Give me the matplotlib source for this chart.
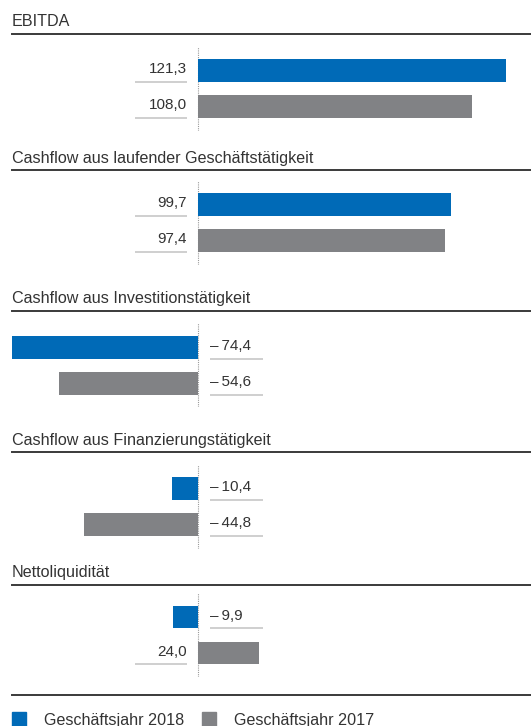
import matplotlib
matplotlib.use("Agg")
import matplotlib.pyplot as plt
from matplotlib.lines import Line2D
from matplotlib.patches import Rectangle

plt.rcParams['font.family'] = ['Liberation Sans', 'DejaVu Sans']

# ---- data ----
titles = ["EBITDA",
          "Cashflow aus laufender Geschäftstätigkeit",
          "Cashflow aus Investitionstätigkeit",
          "Cashflow aus Finanzierungstätigkeit",
          "Nettoliquidität"]
values_2018 = [121.3, 99.7, -74.4, -10.4, -9.9]
values_2017 = [108.0, 97.4, -54.6, -44.8, 24.0]
series_labels = ["Geschäftsjahr 2018", "Geschäftsjahr 2017"]

# ---- style / layout ----
W, H = 531, 726
BLUE = "#006AB7"
GREY = "#818285"
TXT = "#333333"
RULE = "#3a3a3a"
ULINE = "#cfcfcf"
PX = 2.54            # pixels per unit
LEFT_PX = 12
ZERO_PX = 198
rule_y = [33.5, 169.5, 310.5, 452.0, 584.5]
blue_c = [70.5, 204.7, 347.3, 488.7, 617.2]
GAP = 36.0
BAR_H_PX = 22.5
FS = 11
FS_T = 11.6

fig = plt.figure(figsize=(W / 100, H / 100), dpi=100)

def fx(px):
    return px / W

def fy(py):
    return 1 - py / H

def fmt(v):
    s = f"{abs(v):.1f}".replace(".", ",")
    return ("\u2013\u2009" + s) if v < 0 else s

xmin = -(ZERO_PX - LEFT_PX) / PX
xmax = (W - ZERO_PX) / PX

for i, title in enumerate(titles):
    # title and rule
    fig.text(fx(LEFT_PX), fy(rule_y[i] - 7), title, fontsize=FS_T, color=TXT,
             ha="left", va="baseline")
    fig.add_artist(Line2D([fx(LEFT_PX), 1], [fy(rule_y[i])] * 2,
                          color=RULE, lw=1.4, transform=fig.transFigure))

    top = blue_c[i] - 24
    h = GAP + 48
    ax = fig.add_axes([fx(LEFT_PX), fy(top + h), (W - LEFT_PX) / W, h / H])
    ax.set_xlim(xmin, xmax)
    ax.set_ylim(1 + 24 / GAP, -24 / GAP)
    ax.axis("off")
    bh = BAR_H_PX / GAP
    vals = [values_2018[i], values_2017[i]]
    cols = [BLUE, GREY]
    ax.barh([0, 1], vals, height=bh, color=cols, clip_on=True)
    ax.axvline(0, color="#9a9a9a", lw=0.8, ls=(0, (1, 1)), zorder=0)
    for j, v in enumerate(vals):
        if v >= 0:
            tx = -11 / PX
            ha = "right"
            ux = [-63 / PX, -11 / PX]
        else:
            tx = 12 / PX
            ha = "left"
            ux = [12 / PX, 65 / PX]
        ax.text(tx, j + 2.3 / GAP, fmt(v), fontsize=FS, color=TXT,
                ha=ha, va="baseline")
        ax.plot(ux, [j + bh / 2] * 2, color=ULINE, lw=1.4,
                solid_capstyle="butt")

# bottom rule and legend
fig.add_artist(Line2D([fx(LEFT_PX), 1], [fy(695)] * 2, color=RULE, lw=1.4,
                      transform=fig.transFigure))
for (sx, tx), lab, c in zip([(12, 44), (202, 234)], series_labels, [BLUE, GREY]):
    fig.add_artist(Rectangle((fx(sx), fy(727)), 14 / W, 15 / H, color=c,
                             transform=fig.transFigure))
    fig.text(fx(tx), fy(724.5), lab, fontsize=FS_T, color=TXT, ha="left",
             va="baseline")

fig.savefig("out.png", dpi=100)
